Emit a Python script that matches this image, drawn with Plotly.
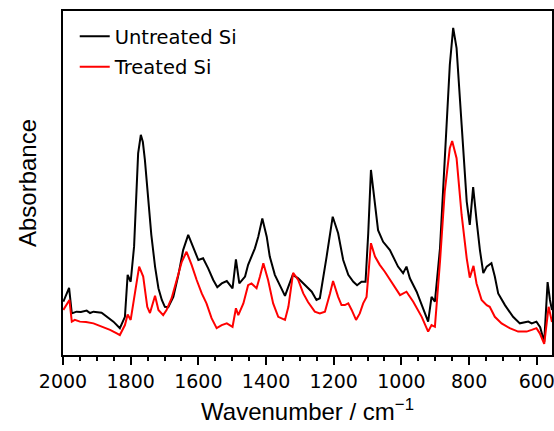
import plotly.graph_objects as go

# Untreated Si (black) — wavenumber (cm^-1) and absorbance (a.u.)
wn_untreated = [1999, 1991, 1982, 1974, 1960, 1947, 1930, 1920, 1910, 1886, 1871, 1851, 1832, 1817,
                1809, 1800, 1790, 1784, 1778, 1770, 1764, 1758, 1748, 1739, 1728, 1718, 1708, 1699,
                1689, 1674, 1659, 1645, 1630, 1615, 1600, 1586, 1571, 1556, 1544, 1531, 1516, 1499,
                1489, 1479, 1462, 1453, 1433, 1423, 1411, 1398, 1389, 1374, 1359, 1344, 1334, 1321,
                1305, 1290, 1280, 1265, 1251, 1241, 1221, 1203, 1187, 1172, 1157, 1142, 1131, 1118,
                1106, 1098, 1090, 1081, 1069, 1054, 1034, 1010, 995, 985, 975, 955, 936, 921, 911,
                901, 886, 872, 857, 847, 837, 822, 807, 798, 788, 778, 768, 758, 748, 734, 724, 714,
                694, 670, 650, 625, 615, 601, 590, 578, 568, 561, 555]
abs_untreated = [0.155, 0.174, 0.195, 0.121, 0.126, 0.125, 0.129, 0.122, 0.126, 0.123, 0.111, 0.097, 0.078, 0.111,
                 0.233, 0.213, 0.315, 0.451, 0.586, 0.640, 0.619, 0.567, 0.451, 0.349, 0.257, 0.194, 0.160, 0.140,
                 0.139, 0.169, 0.233, 0.305, 0.349, 0.310, 0.276, 0.281, 0.252, 0.218, 0.197, 0.208, 0.215, 0.194,
                 0.278, 0.208, 0.228, 0.262, 0.310, 0.344, 0.397, 0.344, 0.286, 0.233, 0.203, 0.172, 0.199, 0.233,
                 0.223, 0.208, 0.199, 0.184, 0.160, 0.165, 0.286, 0.402, 0.354, 0.276, 0.233, 0.213, 0.203, 0.213,
                 0.213, 0.354, 0.538, 0.460, 0.363, 0.329, 0.305, 0.257, 0.238, 0.257, 0.223, 0.184, 0.136, 0.097, 0.169,
                 0.155, 0.310, 0.552, 0.843, 0.951, 0.892, 0.669, 0.446, 0.378, 0.488, 0.392, 0.305, 0.238, 0.257, 0.267, 0.228, 0.179,
                 0.145, 0.111, 0.092, 0.097, 0.092, 0.097, 0.081, 0.038, 0.212, 0.160, 0.131]

# Treated Si (red)
wn_treated = [1999, 1991, 1981, 1974, 1965, 1950, 1932, 1910, 1881, 1861, 1841, 1832, 1817, 1809,
              1800, 1787, 1775, 1763, 1751, 1743, 1738, 1728, 1718, 1704, 1694, 1679, 1664, 1649,
              1635, 1620, 1605, 1590, 1576, 1561, 1546, 1531, 1516, 1499, 1489, 1482, 1467, 1453,
              1443, 1428, 1418, 1408, 1394, 1379, 1364, 1344, 1334, 1320, 1305, 1290, 1276, 1256,
              1241, 1226, 1211, 1202, 1187, 1177, 1167, 1157, 1147, 1134, 1123, 1113, 1103, 1090,
              1078, 1064, 1049, 1029, 1004, 985, 965, 940, 921, 911, 901, 886, 872, 857, 850, 837,
              822, 807, 798, 787, 778, 763, 748, 739, 724, 704, 680, 655, 630, 615, 601, 591, 578,
              565, 555]
abs_treated = [0.131, 0.145, 0.160, 0.097, 0.102, 0.097, 0.096, 0.092, 0.082, 0.073, 0.063, 0.058, 0.087, 0.118,
               0.102, 0.189, 0.257, 0.228, 0.140, 0.122, 0.140, 0.172, 0.131, 0.116, 0.131, 0.165, 0.218, 0.271,
               0.300, 0.262, 0.218, 0.179, 0.150, 0.107, 0.078, 0.087, 0.092, 0.082, 0.136, 0.116, 0.150, 0.203,
               0.208, 0.194, 0.228, 0.267, 0.218, 0.150, 0.111, 0.102, 0.140, 0.239, 0.218, 0.179, 0.154, 0.126,
               0.121, 0.126, 0.179, 0.215, 0.169, 0.145, 0.145, 0.150, 0.131, 0.102, 0.121, 0.150, 0.169, 0.325,
               0.286, 0.262, 0.242, 0.213, 0.174, 0.184, 0.155, 0.111, 0.068, 0.087, 0.082, 0.271, 0.475, 0.601, 0.622, 0.572,
               0.407, 0.281, 0.225, 0.259, 0.208, 0.160, 0.145, 0.140, 0.111, 0.092, 0.078, 0.068, 0.068, 0.073, 0.078, 0.063, 0.032,
               0.140, 0.096]

x_ticks = [2000, 1800, 1600, 1400, 1200, 1000, 800, 600]

TICK_FONT = "DejaVu Sans"
TITLE_FONT = "Liberation Sans"

fig = go.Figure()
fig.add_trace(go.Scatter(x=wn_untreated, y=abs_untreated, mode="lines", name="Untreated Si",
                         legendgroup="a", line=dict(color="black", width=2)))
fig.add_trace(go.Scatter(x=wn_treated, y=abs_treated, mode="lines", name="Treated Si",
                         legendgroup="b", line=dict(color="red", width=2)))

fig.update_layout(
    width=554, height=431,
    margin=dict(l=63, r=2, t=11, b=76),
    plot_bgcolor="white", paper_bgcolor="white",
    font=dict(family=TICK_FONT, color="black"),
    showlegend=True,
    legend=dict(x=0.024, y=0.982, xanchor="left", yanchor="top", tracegroupgap=2,
                bgcolor="rgba(0,0,0,0)", font=dict(size=19.5, family=TICK_FONT)),
    xaxis=dict(
        range=[2000, 555], autorange=False, automargin=False,
        tickmode="array", tickvals=x_ticks, ticktext=[str(v) for v in x_ticks],
        ticks="outside", ticklen=8, tickwidth=2, tickcolor="black",
        ticklabeloverflow="allow",
        minor=dict(dtick=50, ticks="outside", ticklen=4, tickwidth=1.5, tickcolor="black"),
        showline=True, linecolor="black", linewidth=2, mirror=True,
        showgrid=False, zeroline=False,
        tickfont=dict(size=19, family=TICK_FONT),
        title=dict(text="Wavenumber / cm<sup>−1</sup>", font=dict(size=24, family=TITLE_FONT), standoff=12),
    ),
    yaxis=dict(
        range=[0, 1], autorange=False, automargin=False,
        showticklabels=False, ticks="",
        showline=True, linecolor="black", linewidth=2, mirror=True,
        showgrid=False, zeroline=False,
        title=dict(text="Absorbance", font=dict(size=24, family=TITLE_FONT), standoff=18),
    ),
)

fig.write_html("out.html", config={"displayModeBar": False},
               post_script="document.body.style.margin='0';document.body.style.overflow='hidden';")
